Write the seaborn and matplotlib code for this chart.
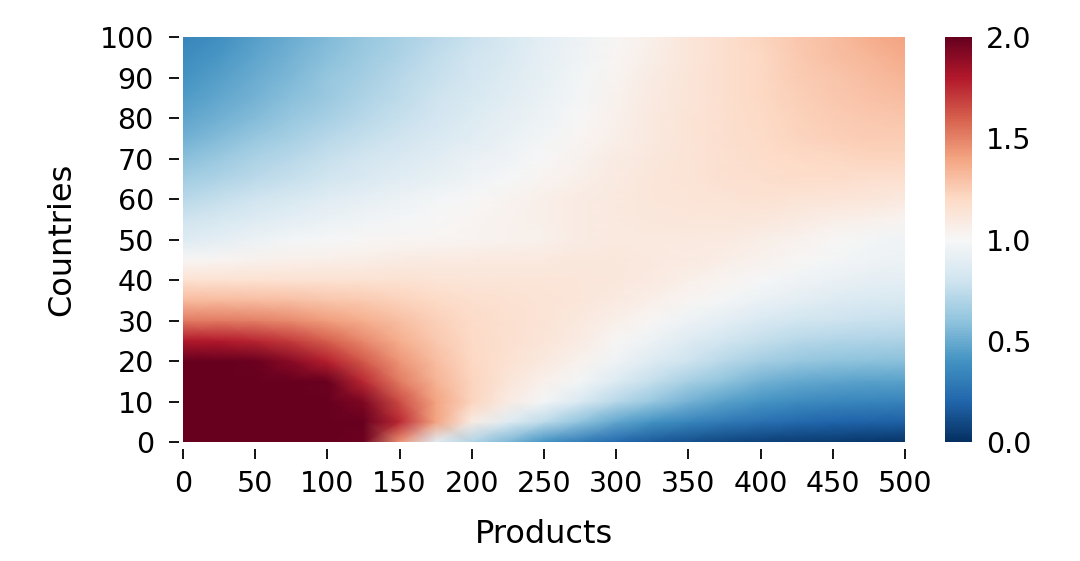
import numpy as np
import pandas as pd
import matplotlib
matplotlib.use("Agg")
import matplotlib.pyplot as plt
import seaborn as sns

# grid: products every 25, countries every 5
products = list(range(0, 501, 25))
countries = list(range(0, 101, 5))

# one row per country value (bottom row first), values per product column
ratio = [
    [2.60, 2.60, 2.55, 2.45, 2.25, 1.98, 1.45, 0.88, 0.70, 0.55, 0.40, 0.30, 0.22, 0.16, 0.12, 0.09, 0.07, 0.05, 0.04, 0.03, 0.02],  # 0
    [2.50, 2.50, 2.45, 2.35, 2.20, 2.02, 1.75, 1.40, 1.08, 0.88, 0.74, 0.60, 0.48, 0.40, 0.34, 0.29, 0.25, 0.22, 0.20, 0.19, 0.18],  # 5
    [2.35, 2.35, 2.30, 2.20, 2.12, 1.93, 1.65, 1.40, 1.22, 1.08, 0.98, 0.85, 0.72, 0.62, 0.53, 0.46, 0.41, 0.37, 0.35, 0.34, 0.33],  # 10
    [2.20, 2.20, 2.15, 2.06, 1.99, 1.75, 1.52, 1.35, 1.22, 1.13, 1.05, 0.97, 0.86, 0.76, 0.67, 0.60, 0.53, 0.49, 0.47, 0.46, 0.46],  # 15
    [2.07, 2.04, 1.99, 1.90, 1.78, 1.61, 1.44, 1.31, 1.21, 1.15, 1.10, 1.04, 0.96, 0.87, 0.79, 0.72, 0.66, 0.62, 0.60, 0.59, 0.58],  # 20
    [1.80, 1.79, 1.76, 1.70, 1.60, 1.48, 1.36, 1.27, 1.20, 1.16, 1.13, 1.08, 1.01, 0.94, 0.87, 0.81, 0.76, 0.72, 0.70, 0.69, 0.68],  # 25
    [1.52, 1.52, 1.50, 1.47, 1.42, 1.36, 1.30, 1.24, 1.19, 1.16, 1.14, 1.10, 1.06, 1.01, 0.95, 0.90, 0.85, 0.81, 0.79, 0.78, 0.77],  # 30
    [1.32, 1.32, 1.31, 1.30, 1.28, 1.26, 1.23, 1.20, 1.17, 1.15, 1.14, 1.12, 1.09, 1.06, 1.02, 0.98, 0.93, 0.90, 0.87, 0.85, 0.84],  # 35
    [1.15, 1.15, 1.15, 1.15, 1.15, 1.15, 1.15, 1.14, 1.13, 1.13, 1.13, 1.12, 1.11, 1.09, 1.06, 1.03, 0.99, 0.96, 0.93, 0.91, 0.90],  # 40
    [1.01, 1.02, 1.04, 1.05, 1.06, 1.07, 1.08, 1.09, 1.09, 1.10, 1.10, 1.11, 1.11, 1.10, 1.09, 1.07, 1.04, 1.01, 0.98, 0.96, 0.94],  # 45
    [0.87, 0.90, 0.94, 0.97, 0.99, 1.01, 1.02, 1.02, 1.03, 1.04, 1.05, 1.08, 1.10, 1.10, 1.10, 1.09, 1.07, 1.04, 1.01, 0.98, 0.96],  # 50
    [0.79, 0.83, 0.87, 0.90, 0.93, 0.96, 0.98, 1.00, 1.02, 1.04, 1.06, 1.08, 1.10, 1.11, 1.12, 1.12, 1.11, 1.09, 1.07, 1.05, 1.03],  # 55
    [0.72, 0.76, 0.80, 0.84, 0.88, 0.91, 0.94, 0.97, 1.00, 1.03, 1.06, 1.08, 1.10, 1.12, 1.13, 1.14, 1.15, 1.14, 1.13, 1.12, 1.10],  # 60
    [0.65, 0.69, 0.73, 0.77, 0.81, 0.85, 0.89, 0.92, 0.96, 0.99, 1.03, 1.06, 1.09, 1.12, 1.14, 1.16, 1.17, 1.18, 1.18, 1.17, 1.16],  # 65
    [0.58, 0.63, 0.68, 0.72, 0.77, 0.81, 0.85, 0.89, 0.93, 0.96, 1.00, 1.04, 1.08, 1.11, 1.14, 1.16, 1.18, 1.20, 1.21, 1.22, 1.22],  # 70
    [0.52, 0.57, 0.62, 0.67, 0.72, 0.76, 0.80, 0.85, 0.89, 0.93, 0.97, 1.02, 1.06, 1.10, 1.14, 1.17, 1.19, 1.22, 1.24, 1.25, 1.25],  # 75
    [0.47, 0.52, 0.57, 0.62, 0.67, 0.72, 0.77, 0.82, 0.86, 0.91, 0.95, 1.00, 1.05, 1.10, 1.14, 1.17, 1.20, 1.23, 1.25, 1.27, 1.28],  # 80
    [0.43, 0.48, 0.53, 0.58, 0.63, 0.69, 0.74, 0.79, 0.84, 0.89, 0.93, 0.98, 1.04, 1.09, 1.13, 1.17, 1.21, 1.24, 1.27, 1.29, 1.31],  # 85
    [0.40, 0.45, 0.50, 0.55, 0.61, 0.66, 0.72, 0.77, 0.82, 0.87, 0.92, 0.97, 1.03, 1.08, 1.13, 1.17, 1.21, 1.25, 1.28, 1.31, 1.34],  # 90
    [0.37, 0.42, 0.47, 0.53, 0.58, 0.64, 0.69, 0.75, 0.80, 0.85, 0.91, 0.96, 1.02, 1.07, 1.12, 1.17, 1.21, 1.26, 1.30, 1.33, 1.37],  # 95
    [0.34, 0.39, 0.45, 0.50, 0.56, 0.61, 0.67, 0.72, 0.78, 0.84, 0.90, 0.95, 1.01, 1.06, 1.12, 1.17, 1.22, 1.27, 1.31, 1.36, 1.40],  # 100
]

x_ticks = list(range(0, 501, 50))
y_ticks = list(range(0, 101, 10))
cbar_ticks = [0.0, 0.5, 1.0, 1.5, 2.0]

df = pd.DataFrame(ratio, index=countries, columns=products)

fig = plt.figure(figsize=(10.8, 5.61), dpi=100)
ax = fig.add_axes([0.1694, 0.2121, 0.6685, 0.7219])
cax = fig.add_axes([0.875, 0.2121, 0.025, 0.7219])

# gouraud shading keeps the field smooth like the original
sns.heatmap(df, ax=ax, cbar_ax=cax, cmap="RdBu_r", vmin=0, vmax=2,
            shading="gouraud", xticklabels=False, yticklabels=False,
            cbar_kws={"ticks": cbar_ticks})

# gouraud mesh spans index 0..n-1, countries upward
step_x = products[1] - products[0]
step_y = countries[1] - countries[0]
ax.set_xlim(0, len(products) - 1)
ax.set_ylim(0, len(countries) - 1)
ax.set_xticks([v / step_x for v in x_ticks])
ax.set_xticklabels([str(v) for v in x_ticks], rotation=0)
ax.set_yticks([v / step_y for v in y_ticks])
ax.set_yticklabels([str(v) for v in y_ticks], rotation=0)

# small gap between the mesh and the tick marks, as in the original
ax.spines["left"].set_position(("outward", 3))
ax.spines["bottom"].set_position(("outward", 5))

ax.tick_params(axis="both", labelsize=20.5, length=7, width=1.3)
ax.tick_params(axis="x", pad=8)
ax.tick_params(axis="y", pad=11)
ax.set_xlabel("Products", fontsize=23, labelpad=15)
ax.set_ylabel("Countries", fontsize=23, labelpad=16)

cax.tick_params(labelsize=20.5, length=0, pad=10)

fig.savefig("out.png", dpi=100)
